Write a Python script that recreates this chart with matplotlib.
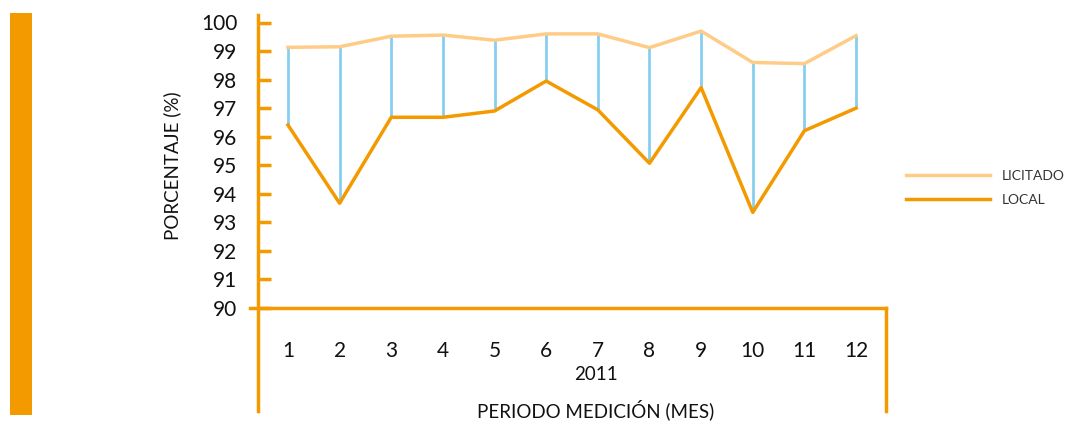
import matplotlib
matplotlib.use("Agg")
import matplotlib.pyplot as plt
from matplotlib.lines import Line2D
from matplotlib.patches import Rectangle

# --- Data ---
meses = [1, 2, 3, 4, 5, 6, 7, 8, 9, 10, 11, 12]
licitado = [99.13, 99.15, 99.52, 99.56, 99.38, 99.6, 99.6, 99.12, 99.7, 98.6, 98.56, 99.54]
local = [96.41, 93.67, 96.68, 96.68, 96.9, 97.95, 96.94, 95.07, 97.72, 93.35, 96.21, 97.0]
yticks = list(range(90, 101))
anio = "2011"

# --- Colours ---
naranja = "#F39A00"
naranja_claro = "#FFCC88"
azul = "#88CFEF"
texto = "#111111"

W, H = 1067, 422
fig = plt.figure(figsize=(W / 100, H / 100), dpi=100)
plt.rcParams['font.family'] = ['Lato', 'DejaVu Sans']

def fx(px):
    return px / W

def fy(py):
    return 1 - py / H

# axes box: x 258..886 px, y 22.5..308 px
ax = fig.add_axes([fx(258), fy(308), fx(886) - fx(258), fy(22.5) - fy(308)])
ax.set_xlim(0.42, 12.58)
ax.set_ylim(90, 100)
for s in ax.spines.values():
    s.set_visible(False)

# vertical connectors
ax.vlines(meses, local, licitado, color=azul, lw=2, zorder=1)
ax.plot(meses, licitado, color=naranja_claro, lw=2.5, label="LICITADO", zorder=2)
ax.plot(meses, local, color=naranja, lw=2.5, label="LOCAL", zorder=2)

ax.set_yticks(yticks)
ax.set_yticklabels([str(t) for t in yticks], fontsize=15, color=texto)
ax.tick_params(axis='y', direction='in', length=9, width=2.5, color=naranja, pad=15)
ax.set_xticks(meses)
ax.set_xticklabels([str(m) for m in meses], fontsize=15, color=texto)
ax.tick_params(axis='x', length=0, pad=24)

ax.set_ylabel("PORCENTAJE (%)", fontsize=13.5, color=texto, labelpad=14)

# frame lines drawn in figure pixels
fig.add_artist(Line2D([fx(258), fx(258)], [fy(15), fy(411)], color=naranja, lw=2.5))
fig.add_artist(Line2D([fx(250), fx(886)], [fy(308), fy(308)], color=naranja, lw=2.5))
fig.add_artist(Line2D([fx(886), fx(886)], [fy(308), fy(411)], color=naranja, lw=2.5))

fig.text(fx(596), fy(374), anio, fontsize=13.5, color=texto, ha='center', va='center')
fig.text(fx(596), fy(410), "PERIODO MEDICIÓN (MES)", fontsize=13.5, color=texto,
         ha='center', va='center')

# side bar
fig.add_artist(Rectangle((fx(10), fy(415)), fx(32) - fx(10), fy(13) - fy(415),
                         color=naranja, lw=0))

leg = fig.legend(loc='center left', bbox_to_anchor=(fx(893), fy(188)), frameon=False,
                 fontsize=10, handlelength=6.1, handletextpad=0.8, labelspacing=0.85)
for t in leg.get_texts():
    t.set_color("#333333")

fig.savefig("out.png", dpi=100)
